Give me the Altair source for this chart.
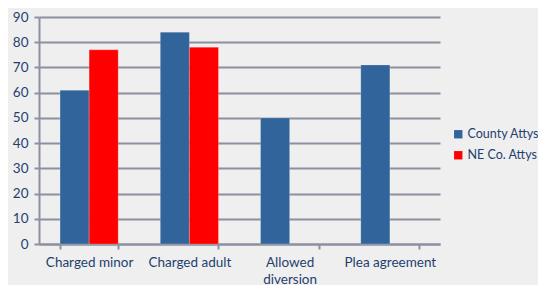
import altair as alt
import pandas as pd

categories = ["Charged minor", "Charged adult", "Allowed diversion", "Plea agreement"]
series = ["County Attys", "NE Co. Attys"]
county = [61, 84, 50, 71]
ne_co = [77, 78, None, None]
colors = ["#31649a", "#ff0000"]

rows = []
for c, v in zip(categories, county):
    rows.append({"cat": c, "series": series[0], "value": v})
for c, v in zip(categories, ne_co):
    rows.append({"cat": c, "series": series[1], "value": v})
df = pd.DataFrame(rows)

label_color = "#1f3f6e"
font = "Lato"

chart = alt.Chart(df).mark_bar(stroke="#ffffff", strokeOpacity=0.35, strokeWidth=0.6).encode(
    x=alt.X("cat:N", sort=categories, title=None,
            scale=alt.Scale(paddingInner=0.42, paddingOuter=0.21),
            axis=alt.Axis(labelAngle=0, labelFontSize=13.5, labelColor=label_color, labelFont=font,
                          domainColor="#8c90a0", domainWidth=2, tickColor="#8c90a0", tickWidth=2,
                          tickSize=5, tickBand="extent", labelPadding=6, labelLineHeight=17,
                          labelExpr="datum.value == 'Allowed diversion' ? ['Allowed', 'diversion'] : datum.value")),
    xOffset=alt.XOffset("series:N", sort=series, scale=alt.Scale(domain=series)),
    y=alt.Y("value:Q", title=None,
            scale=alt.Scale(domain=[0, 90], nice=False),
            axis=alt.Axis(values=list(range(0, 100, 10)), labelFontSize=13.5, labelColor=label_color,
                          labelFont=font, domainColor="#8c90a0", domainWidth=2, tickColor="#8c90a0",
                          tickWidth=2, tickSize=5, labelPadding=6, gridColor="#8c90a0", gridWidth=2.2)),
    color=alt.Color("series:N", sort=series, scale=alt.Scale(domain=series, range=colors),
                    legend=alt.Legend(title=None, orient="none", legendX=413, legendY=111,
                                      symbolType="square", symbolSize=70, symbolStrokeWidth=0,
                                      labelFontSize=12.5, labelColor=label_color, labelFont=font,
                                      rowPadding=8, labelOffset=3)),
).properties(
    width=401, height=227,
    autosize=alt.AutoSizeParams(type="none"),
    padding={"left": 31, "top": 9, "right": 98, "bottom": 41},
    background="#efefef",
).configure_view(stroke=None)

chart.save("out.html", embed_options={"renderer": "svg", "actions": False})
